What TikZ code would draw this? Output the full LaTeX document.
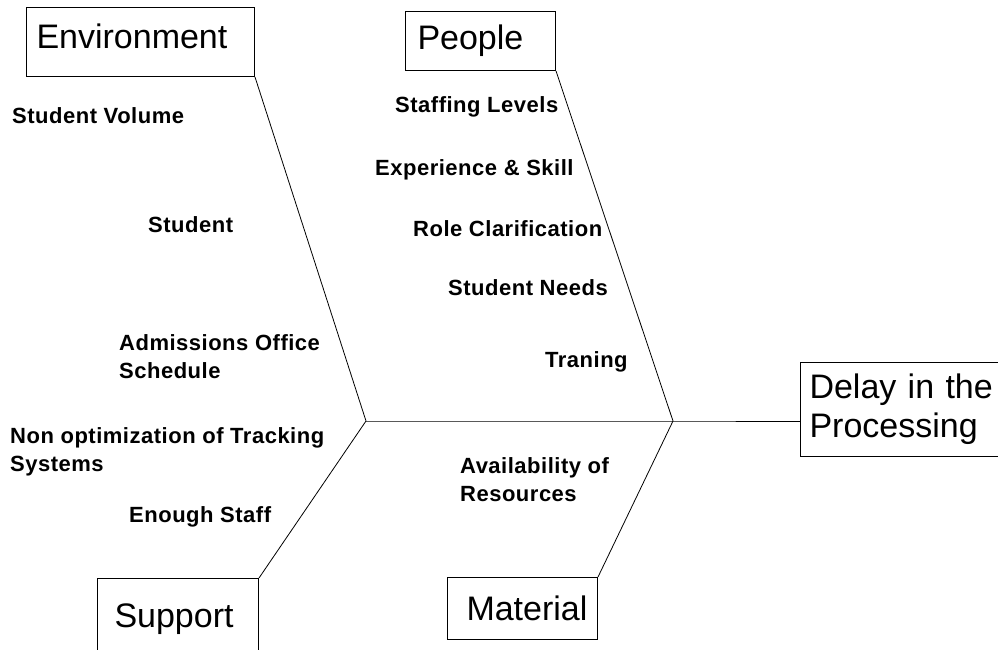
\documentclass[tikz,border=0pt]{standalone}
\usepackage{fontspec}
\setmainfont{Liberation Sans}
\newfontfamily\itemfont[LetterSpace=2.3]{Liberation Sans}

\begin{document}
\begin{tikzpicture}[x=1pt, y=-1pt,
  cause/.style={draw, line width=1pt, anchor=north west, inner ysep=0pt, align=left,
    font=\fontsize{34}{39}\selectfont},
  item/.style={anchor=west, inner sep=0pt, align=left,
    font=\fontsize{22}{28}\itemfont\bfseries},
  bone/.style={line width=0.8pt}]
  \useasboundingbox (0,0) rectangle (998,650);

  % categories
  \node[cause, inner xsep=10pt, text width=208pt, minimum height=69pt, text depth=12pt] (env) at (26,7) {Environment};
  \node[cause, inner xsep=12pt, text width=126pt, minimum height=59pt] (people) at (405,11) {People};
  \node[cause, inner xsep=17pt, text width=127pt, minimum height=74pt, text depth=0pt] (support) at (97,578) {Support};
  \node[cause, inner xsep=19pt, text width=112pt, minimum height=62pt] (material) at (447,577) {Material};
  \node[cause, inner xsep=9pt, text width=200pt, minimum height=94pt] (delay) at (800,362) {Delay in the\\Processing};

  \coordinate (j1) at (366,421);
  \coordinate (j2) at (673,421);

  % bones
  \draw[bone] (env.south east) -- (j1);
  \draw[bone] (support.north east) -- (j1);
  \draw[bone] (people.south east) -- (j2);
  \draw[bone] (material.north east) -- (j2);
  \draw[bone] (j1) -- (j2) -- (delay.west |- j2);

  % causes
  \node[item] (volume) at (12,116) {Student Volume};
  \node[item] (student) at (148,225) {Student};
  \node[item] (schedule) at (119,357) {Admissions Office\\Schedule};
  \node[item] (tracking) at (10,452) {Non optimization of Tracking\\Systems};
  \node[item] (staff) at (129,517) {Enough Staff};
  \node[item] (levels) at (395,107) {Staffing Levels};
  \node[item] (skill) at (375,170) {Experience \& Skill};
  \node[item] (role) at (413,229) {Role Clarification};
  \node[item] (needs) at (448,288) {Student Needs};
  \node[item] (traning) at (545,362) {Traning};
  \node[item] (resources) at (460,480) {Availability of\\Resources};
\end{tikzpicture}
\end{document}
